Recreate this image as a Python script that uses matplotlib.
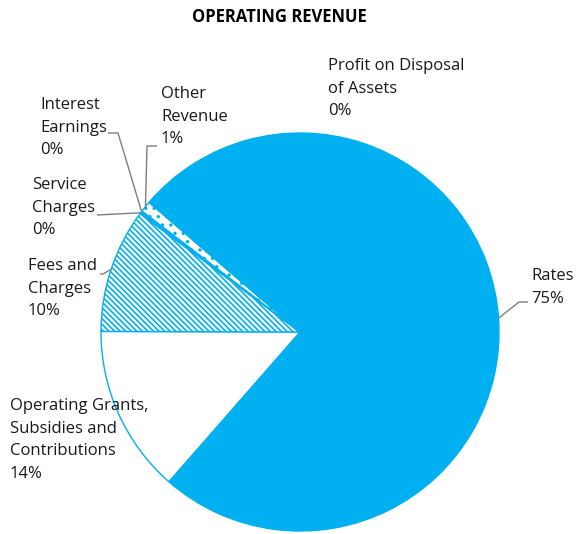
import matplotlib
matplotlib.use("Agg")
import matplotlib.pyplot as plt
import numpy as np

categories = ["Rates", "Operating Grants,\nSubsidies and\nContributions", "Fees and\nCharges",
              "Service\nCharges", "Interest\nEarnings", "Other\nRevenue",
              "Profit on Disposal\nof Assets"]
values = [75.1, 13.6, 10.1, 0.15, 0.1, 0.9, 0.05]
pct_labels = ["75%", "14%", "10%", "0%", "0%", "1%", "0%"]
title = "OPERATING REVENUE"

W, H = 579, 534
BLUE = "#00B0F0"
TXT = "#1a1a1a"
LEAD = "#7F7F7F"

plt.rcParams['font.family'] = ['Open Sans', 'DejaVu Sans']
plt.rcParams['hatch.linewidth'] = 1.2
fig = plt.figure(figsize=(W / 100, H / 100), dpi=100)
ax = fig.add_axes([0, 0, 1, 1])

def P(x, y):
    return (x, H - y)

cx, cy = P(300, 332)
R = 199

styles = [
    dict(facecolor=BLUE, edgecolor=BLUE, hatch=None),
    dict(facecolor="white", edgecolor=BLUE, hatch=None),
    dict(facecolor="white", edgecolor=BLUE, hatch="\\\\\\\\\\\\"),
    dict(facecolor=BLUE, edgecolor=BLUE, hatch=None),
    dict(facecolor=BLUE, edgecolor=BLUE, hatch=None),
    dict(facecolor="white", edgecolor=BLUE, hatch=".."),
    dict(facecolor="white", edgecolor=BLUE, hatch=None),
]

wedges, _ = ax.pie(values, startangle=139.15, counterclock=False,
                   center=(cx, cy), radius=R, frame=True)
ax.set_xlim(0, W)
ax.set_ylim(0, H)
ax.set_aspect('equal')
ax.axis('off')
for w, s in zip(wedges, styles):
    w.set_facecolor(s['facecolor'])
    w.set_edgecolor(s['edgecolor'])
    w.set_linewidth(1.0)
    if s['hatch']:
        w.set_hatch(s['hatch'])

label_pos = [(531, 268), (10, 398), (28, 258), (32, 177), (40, 97), (161, 86), (328, 58)]
leaders = [
    [(519, 302), (528, 302)],
    None,
    [(103, 274), (100, 274)],
    [(97, 215)],
    [(118, 133), (108, 133)],
    [(147, 146), (157, 146)],
    None,
]
for i, (w, cat, pct) in enumerate(zip(wedges, categories, pct_labels)):
    x, y = P(*label_pos[i])
    ax.text(x, y, cat + "\n" + pct, ha='left', va='top', fontsize=12,
            color=TXT, linespacing=1.56)
    if leaders[i] is not None:
        mid = np.deg2rad((w.theta1 + w.theta2) / 2)
        rx = cx + R * np.cos(mid)
        ry = cy + R * np.sin(mid)
        pts = [(rx, ry)] + [P(*p) for p in leaders[i]]
        xs, ys = zip(*pts)
        ax.plot(xs, ys, color=LEAD, lw=1.0, solid_capstyle='butt')

tx, ty = P(279, 17)
ax.text(tx, ty, title, ha='center', va='center', fontsize=12, fontweight='bold', color="black")

fig.savefig("out.png", dpi=100)
